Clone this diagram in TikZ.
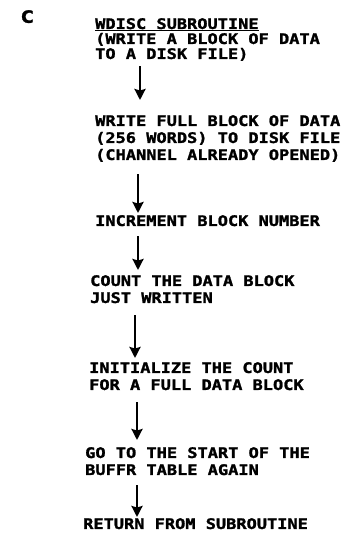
\documentclass[tikz,border=0pt]{standalone}
\usepackage{fontspec}
\usepackage{tikz}
\usetikzlibrary{arrows.meta}
\newfontfamily\letterfont[FakeStretch=1.17,FakeBold=1.6]{DejaVu Sans Mono}
\newfontfamily\panelfont[FakeBold=1.5]{DejaVu Sans}
\tikzstyle{steptext} = [anchor=north west, inner sep=0pt, align=left, font=\letterfont\bfseries\fontsize{14.5}{17}\selectfont]
\tikzstyle{flowarrow} = [line width=2.4pt,-{Stealth[length=11pt,width=11pt,inset=1.5pt]}]

\begin{document}
\begin{tikzpicture}[x=1pt,y=-1pt]
	\useasboundingbox (0,0) rectangle (349,548);
	
	% Panel letter
	\node[anchor=north west, inner sep=0pt, font=\panelfont\bfseries\fontsize{17}{19}\selectfont] (panel) at (21,10) {C};
	
	% Steps:
	% Each block of text is one node, placed by its upper left corner
	\node[steptext] (title) at (95,18) {\underline{WDISC SUBROUTINE}\\[-2pt](WRITE A BLOCK OF DATA\\[-2pt]TO A DISK FILE)};
	\node[steptext] (write) at (95,115) {WRITE FULL BLOCK OF DATA\\(256 WORDS) TO DISK FILE\\(CHANNEL ALREADY OPENED)};
	\node[steptext] (incr) at (95,215) {INCREMENT BLOCK NUMBER};
	\node[steptext] (count) at (90,275) {COUNT THE DATA BLOCK\\JUST WRITTEN};
	\node[steptext] (init) at (89,362) {INITIALIZE THE COUNT\\FOR A FULL DATA BLOCK};
	\node[steptext] (goto) at (85,447) {GO TO THE START OF THE\\BUFFR TABLE AGAIN};
	\node[steptext] (ret) at (83,518) {RETURN FROM SUBROUTINE};
	
	% Arrows:
	% Drawn from the lower left corner of one block to the upper left corner of the next
	\draw[flowarrow] ([shift={(45,5)}]title.south west) -- ([shift={(45,-15)}]write.north west);
	\draw[flowarrow] ([shift={(43,12)}]write.south west) -- ([shift={(43,-2)}]incr.north west);
	\draw[flowarrow] ([shift={(43,10)}]incr.south west) -- ([shift={(48,-5)}]count.north west);
	\draw[flowarrow] ([shift={(45,12)}]count.south west) -- ([shift={(46,-4)}]init.north west);
	\draw[flowarrow] ([shift={(48,12)}]init.south west) -- ([shift={(52,-7)}]goto.north west);
	\draw[flowarrow] ([shift={(52,10)}]goto.south west) -- ([shift={(54,-1)}]ret.north west);
	
\end{tikzpicture}
\end{document}
